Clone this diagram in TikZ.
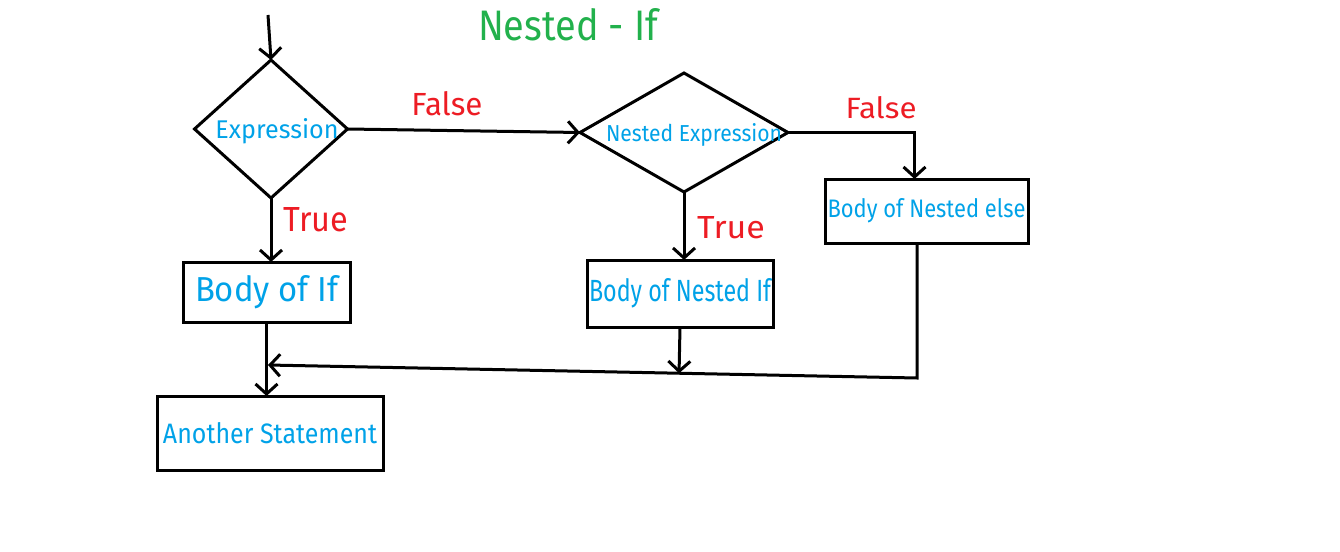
\documentclass[tikz,border=0pt]{standalone}
\usepackage{fontspec}
\usepackage{graphicx}
\setmainfont{Fira Sans}
\usetikzlibrary{shapes.geometric,arrows.meta,calc}
\definecolor{inkblue}{RGB}{0,162,232}
\definecolor{inkred}{RGB}{237,28,36}
\definecolor{inkgreen}{RGB}{34,177,76}
% text squeezed to a given width and height (in pt)
\newcommand\fitwh[3]{\resizebox{#1pt}{#2pt}{#3}}

\begin{document}
\begin{tikzpicture}[x=1pt,y=-1pt,line width=3pt,
  flow/.style={draw=black,-{Straight Barb[length=10pt,width=22pt]}},
  decision/.style={draw=black,diamond,inner sep=0pt,outer sep=0pt},
  stepbox/.style={draw=black,rectangle,inner sep=0pt,outer sep=0pt,text=inkblue},
  branch/.style={text=inkred,inner sep=0pt},
  heading/.style={text=inkgreen,inner sep=0pt}]

\fill[white] (0,0) rectangle (1340,551);
\useasboundingbox (0,0) rectangle (1340,551);

\node[heading] (title) at (568,25) {\fitwh{180}{32}{Nested - If}};

% decisions
\node[decision,minimum width=153pt,minimum height=138pt,
  label={[text=inkblue,xshift=6pt,yshift=-2pt]center:\fitwh{123}{20}{Expression}}] (d1) at (271,129) {};
\node[decision,minimum width=208pt,minimum height=119pt,
  label={[text=inkblue,xshift=10pt,yshift=-2pt]center:\fitwh{176}{18}{Nested Expression}}] (d2) at (684,132.5) {};

% statement boxes
\node[stepbox,minimum width=167pt,minimum height=60pt] (b1) at (266.5,292) {\fitwh{143}{26}{Body of If}};
\node[stepbox,minimum width=186pt,minimum height=67pt] (b2) at (680,293.5) {\fitwh{182}{23}{Body of Nested If}};
\node[stepbox,minimum width=203pt,minimum height=64pt] (b3) at (926.5,211) {\fitwh{198}{19}{Body of Nested else}};
\node[stepbox,minimum width=226pt,minimum height=74pt] (b4) at (270,433) {\fitwh{214}{21}{Another Statement}};

% branch labels
\node[branch] (f1) at (447,104) {\fitwh{71}{24}{False}};
\node[branch] (t1) at (316,220) {\fitwh{65}{24}{True}};
\node[branch] (f2) at (881,108) {\fitwh{71}{22}{False}};
\node[branch] (t2) at (731,228) {\fitwh{68}{22}{True}};

% connectors
\coordinate (start) at (268,15);
\coordinate (m) at (268,365);
\coordinate (c) at (917,378);

\draw[flow] (start) -- (d1.north);
\draw[flow] (d1.east) -- (d2.west);
\draw[flow] (d1.south) -- (d1.south |- b1.north);
\draw[flow] (d2.south) -- (d2.south |- b2.north);
\draw[flow] (d2.east) -| ($(b3.north)+(-12,0)$);
\draw[flow] (b1.south) -- (b1.south |- b4.north);
\draw[flow] (b3.south -| c) -- (c) -- (m);
\draw[flow] (b2.south) -- ($(m)!(b2.south)!(c)$);

\end{tikzpicture}
\end{document}
